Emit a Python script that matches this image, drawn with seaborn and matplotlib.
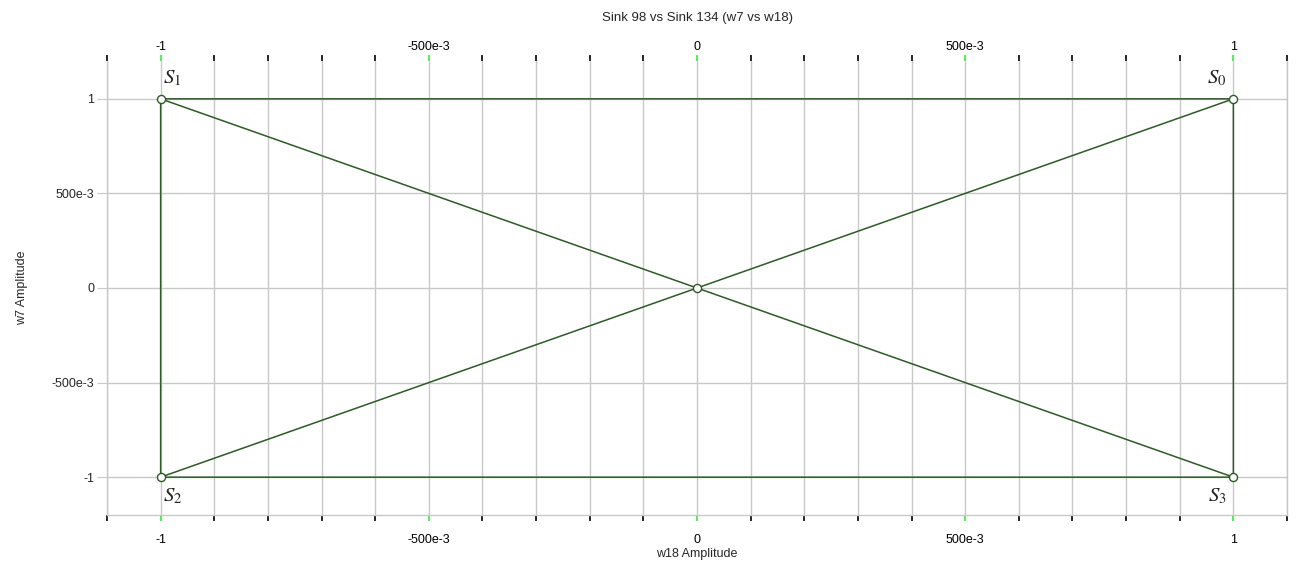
import pandas as pd
import seaborn as sns
import matplotlib.pyplot as plt
from matplotlib.ticker import FixedLocator, FuncFormatter

# constellation states (w18 on x, w7 on y)
state_names = ['$S_0$', '$S_1$', '$S_2$', '$S_3$']
state_w18 = [1, -1, -1, 1]
state_w7 = [1, 1, -1, -1]
center_w18 = [0]
center_w7 = [0]

# trace drawn between the states, two strokes
trace_seg = [0, 0, 0, 0, 0, 0, 0, 1, 1, 1]
trace_w18 = [-1, 1, 1, -1, -1, 0, 1, -1, 0, 1]
trace_w7 = [1, 1, -1, -1, 1, 0, -1, -1, 0, 1]

x_major = [-1, -0.5, 0, 0.5, 1]
x_minor = [-1.1, -0.9, -0.8, -0.7, -0.6, -0.4, -0.3, -0.2, -0.1,
           0.1, 0.2, 0.3, 0.4, 0.6, 0.7, 0.8, 0.9, 1.1]
y_major = [-1, -0.5, 0, 0.5, 1]

sns.set_style('white')
plt.rcParams['font.family'] = ['Liberation Sans', 'DejaVu Sans']
plt.rcParams['mathtext.fontset'] = 'stix'

green = '#2d5a27'
trace = pd.DataFrame({'seg': trace_seg, 'w18': trace_w18, 'w7': trace_w7})
pts = pd.DataFrame({'w18': state_w18 + center_w18, 'w7': state_w7 + center_w7})

fig = plt.figure(figsize=(12.96, 5.67), dpi=100)
ax = fig.add_axes([107 / 1296, 1 - 515 / 567, 1180 / 1296, 454 / 567])

sns.lineplot(data=trace, x='w18', y='w7', units='seg', estimator=None, sort=False,
             color=green, lw=1.1, ax=ax, zorder=3)
sns.scatterplot(data=pts, x='w18', y='w7', s=34, color='white', edgecolor=green,
                linewidth=1.0, ax=ax, zorder=4)

ax.set_xlim(-1.1, 1.1)
ax.set_ylim(-1.2, 1.2)

def fmt(v, pos):
    if abs(v) < 1e-9:
        return '0'
    if abs(abs(v) - 1) < 1e-9:
        return '%d' % round(v)
    return '%de-3' % round(v * 1000)

def style_x(axis, pad):
    axis.xaxis.set_major_locator(FixedLocator(x_major))
    axis.xaxis.set_minor_locator(FixedLocator(x_minor))
    axis.xaxis.set_major_formatter(FuncFormatter(fmt))
    axis.tick_params(axis='x', which='major', color='#33ee33', length=4, width=1.2,
                     direction='out', labelsize=9, labelcolor='black', pad=pad)
    axis.tick_params(axis='x', which='minor', color='black', length=4, width=1.2,
                     direction='out')

ax.tick_params(axis='x', which='both', bottom=True, top=False)
style_x(ax, 10)
ax.yaxis.set_major_locator(FixedLocator(y_major))
ax.yaxis.set_major_formatter(FuncFormatter(fmt))

top = ax.secondary_xaxis('top')
style_x(top, 2)
top.spines['top'].set_visible(False)

ax.grid(which='both', axis='x', color='#c8c8c8', lw=1.0, zorder=0)
ax.grid(which='major', axis='y', color='#c8c8c8', lw=1.0, zorder=0)
ax.set_axisbelow(True)

ax.tick_params(axis='y', which='major', left=True, color='#c8c8c8', length=7, labelsize=9, pad=2)

for s in ['left', 'right', 'bottom']:
    ax.spines[s].set_color('#c8c8c8')
    ax.spines[s].set_linewidth(1.0)
ax.spines['top'].set_visible(False)

for name, x, y in zip(state_names, state_w18, state_w7):
    ha = 'left' if x < 0 else 'right'
    va = 'bottom' if y > 0 else 'top'
    ax.text(x + (0.005 if x < 0 else -0.012), y + (0.055 if y > 0 else -0.05), name,
            ha=ha, va=va, fontsize=15, color='#222222')

ax.set_xlabel('w18 Amplitude', fontsize=9, labelpad=1)
ax.set_ylabel('w7 Amplitude', fontsize=9, labelpad=17)
fig.text(697 / 1296, 1 - 18 / 567, 'Sink 98 vs Sink 134 (w7 vs w18)', ha='center', va='center', fontsize=9.5)

plt.savefig('out.png', dpi=100)
plt.close()
